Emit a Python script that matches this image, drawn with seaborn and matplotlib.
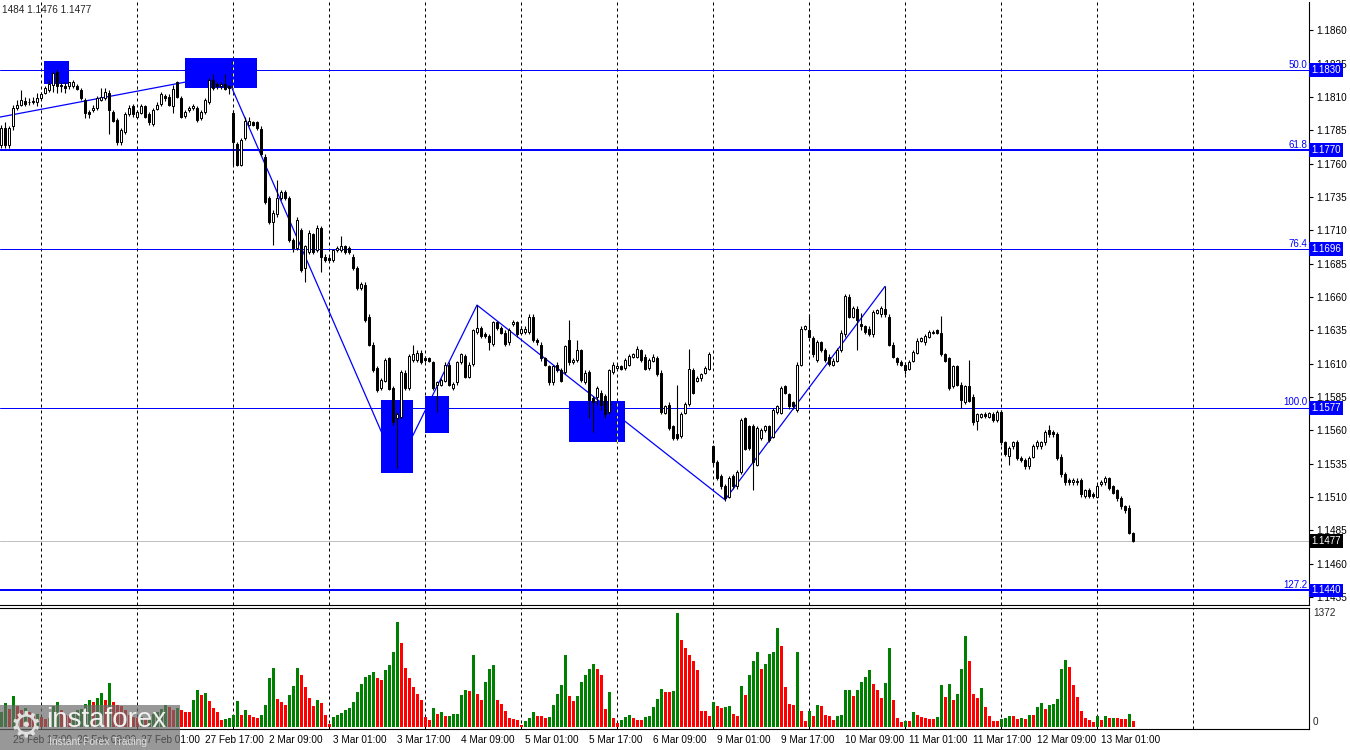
import numpy as np
import pandas as pd
import matplotlib
matplotlib.use("Agg")
import matplotlib.pyplot as plt
import matplotlib.transforms as mtransforms
from matplotlib.patches import Rectangle
import seaborn as sns

# ---------------- data (EURUSD H1) ----------------
opens = [1.1774, 1.1787, 1.1774, 1.1788, 1.1802, 1.1804, 1.1807, 1.1806, 1.1807, 1.1806,
 1.1809, 1.1813, 1.1815, 1.1819, 1.1829, 1.1819, 1.1818, 1.1818, 1.1818, 1.1818,
 1.1815, 1.1808, 1.1799, 1.1800, 1.1802, 1.1808, 1.1809, 1.1813, 1.1799, 1.1793,
 1.1776, 1.1784, 1.1797, 1.1803, 1.1795, 1.1798, 1.1803, 1.1797, 1.1790, 1.1801,
 1.1805, 1.1811, 1.1810, 1.1803, 1.1821, 1.1809, 1.1796, 1.1800, 1.1802, 1.1802,
 1.1794, 1.1799, 1.1806, 1.1823, 1.1820, 1.1818, 1.1820, 1.1818, 1.1798, 1.1775,
 1.1759, 1.1779, 1.1789, 1.1791, 1.1791, 1.1786, 1.1765, 1.1734, 1.1716, 1.1722,
 1.1734, 1.1739, 1.1734, 1.1703, 1.1697, 1.1710, 1.1682, 1.1694, 1.1707, 1.1695,
 1.1712, 1.1690, 1.1689, 1.1688, 1.1695, 1.1695, 1.1698, 1.1697, 1.1690, 1.1682,
 1.1667, 1.1669, 1.1645, 1.1624, 1.1607, 1.1592, 1.1597, 1.1614, 1.1592, 1.1569,
 1.1570, 1.1603, 1.1592, 1.1613, 1.1613, 1.1618, 1.1614, 1.1614, 1.1611, 1.1594,
 1.1594, 1.1597, 1.1609, 1.1592, 1.1596, 1.1611, 1.1616, 1.1600, 1.1610, 1.1634,
 1.1637, 1.1632, 1.1631, 1.1625, 1.1641, 1.1637, 1.1633, 1.1626, 1.1640, 1.1641,
 1.1633, 1.1634, 1.1634, 1.1645, 1.1628, 1.1624, 1.1614, 1.1608, 1.1596, 1.1609,
 1.1605, 1.1604, 1.1628, 1.1611, 1.1613, 1.1620, 1.1596, 1.1604, 1.1584, 1.1585,
 1.1588, 1.1586, 1.1574, 1.1604, 1.1607, 1.1608, 1.1607, 1.1609, 1.1615, 1.1615,
 1.1620, 1.1615, 1.1607, 1.1612, 1.1614, 1.1603, 1.1573, 1.1579, 1.1563, 1.1557,
 1.1556, 1.1573, 1.1580, 1.1605, 1.1597, 1.1599, 1.1603, 1.1606, 1.1548, 1.1536,
 1.1526, 1.1518, 1.1510, 1.1526, 1.1518, 1.1529, 1.1569, 1.1563, 1.1563, 1.1534,
 1.1554, 1.1560, 1.1563, 1.1555, 1.1574, 1.1573, 1.1593, 1.1587, 1.1581, 1.1575,
 1.1609, 1.1636, 1.1635, 1.1629, 1.1613, 1.1626, 1.1620, 1.1615, 1.1609, 1.1612,
 1.1620, 1.1632, 1.1660, 1.1645, 1.1651, 1.1640, 1.1638, 1.1636, 1.1632, 1.1648,
 1.1647, 1.1651, 1.1645, 1.1624, 1.1614, 1.1611, 1.1609, 1.1606, 1.1612, 1.1618,
 1.1627, 1.1626, 1.1630, 1.1633, 1.1635, 1.1633, 1.1617, 1.1614, 1.1593, 1.1608,
 1.1594, 1.1581, 1.1593, 1.1585, 1.1567, 1.1570, 1.1572, 1.1570, 1.1572, 1.1568,
 1.1574, 1.1551, 1.1541, 1.1548, 1.1551, 1.1539, 1.1538, 1.1533, 1.1540, 1.1548,
 1.1548, 1.1551, 1.1560, 1.1559, 1.1557, 1.1540, 1.1527, 1.1523, 1.1521, 1.1522,
 1.1523, 1.1511, 1.1515, 1.1512, 1.1510, 1.1520, 1.1521, 1.1524, 1.1518, 1.1515,
 1.1509, 1.1503, 1.1502, 1.1483]

closes = [1.1787, 1.1774, 1.1787, 1.1802, 1.1804, 1.1808, 1.1805, 1.1806, 1.1806, 1.1809,
 1.1812, 1.1817, 1.1820, 1.1828, 1.1818, 1.1818, 1.1817, 1.1821, 1.1821, 1.1816,
 1.1809, 1.1798, 1.1797, 1.1802, 1.1809, 1.1810, 1.1814, 1.1800, 1.1792, 1.1776,
 1.1785, 1.1797, 1.1802, 1.1797, 1.1799, 1.1803, 1.1795, 1.1791, 1.1800, 1.1804,
 1.1812, 1.1809, 1.1804, 1.1816, 1.1810, 1.1795, 1.1799, 1.1802, 1.1803, 1.1793,
 1.1799, 1.1808, 1.1823, 1.1817, 1.1818, 1.1820, 1.1816, 1.1817, 1.1776, 1.1759,
 1.1778, 1.1792, 1.1792, 1.1789, 1.1787, 1.1767, 1.1731, 1.1716, 1.1723, 1.1734,
 1.1739, 1.1734, 1.1703, 1.1697, 1.1718, 1.1680, 1.1698, 1.1708, 1.1694, 1.1712,
 1.1690, 1.1688, 1.1688, 1.1695, 1.1697, 1.1698, 1.1694, 1.1694, 1.1682, 1.1667,
 1.1670, 1.1643, 1.1624, 1.1605, 1.1590, 1.1598, 1.1613, 1.1591, 1.1566, 1.1572,
 1.1604, 1.1592, 1.1616, 1.1617, 1.1618, 1.1611, 1.1613, 1.1612, 1.1592, 1.1596,
 1.1598, 1.1609, 1.1594, 1.1595, 1.1611, 1.1617, 1.1600, 1.1609, 1.1635, 1.1637,
 1.1631, 1.1631, 1.1626, 1.1641, 1.1637, 1.1633, 1.1625, 1.1635, 1.1641, 1.1632,
 1.1636, 1.1636, 1.1645, 1.1628, 1.1626, 1.1614, 1.1609, 1.1596, 1.1608, 1.1605,
 1.1597, 1.1623, 1.1611, 1.1613, 1.1620, 1.1598, 1.1603, 1.1583, 1.1581, 1.1592,
 1.1579, 1.1572, 1.1605, 1.1609, 1.1608, 1.1606, 1.1613, 1.1616, 1.1617, 1.1621,
 1.1613, 1.1606, 1.1613, 1.1615, 1.1602, 1.1574, 1.1578, 1.1562, 1.1554, 1.1554,
 1.1572, 1.1580, 1.1606, 1.1588, 1.1599, 1.1602, 1.1607, 1.1617, 1.1536, 1.1524,
 1.1518, 1.1509, 1.1524, 1.1518, 1.1529, 1.1568, 1.1546, 1.1547, 1.1536, 1.1562,
 1.1560, 1.1563, 1.1553, 1.1575, 1.1578, 1.1592, 1.1588, 1.1578, 1.1578, 1.1609,
 1.1636, 1.1638, 1.1630, 1.1617, 1.1626, 1.1620, 1.1613, 1.1610, 1.1612, 1.1620,
 1.1633, 1.1661, 1.1645, 1.1652, 1.1643, 1.1638, 1.1634, 1.1632, 1.1649, 1.1650,
 1.1652, 1.1647, 1.1624, 1.1615, 1.1611, 1.1609, 1.1605, 1.1611, 1.1619, 1.1627,
 1.1629, 1.1631, 1.1634, 1.1634, 1.1633, 1.1617, 1.1612, 1.1592, 1.1608, 1.1594,
 1.1583, 1.1593, 1.1582, 1.1566, 1.1572, 1.1572, 1.1571, 1.1573, 1.1568, 1.1574,
 1.1551, 1.1542, 1.1547, 1.1551, 1.1539, 1.1538, 1.1533, 1.1539, 1.1548, 1.1551,
 1.1551, 1.1559, 1.1557, 1.1557, 1.1539, 1.1527, 1.1521, 1.1521, 1.1523, 1.1521,
 1.1512, 1.1515, 1.1511, 1.1511, 1.1518, 1.1521, 1.1524, 1.1517, 1.1513, 1.1509,
 1.1503, 1.1500, 1.1483, 1.1477]

highs = [1.1789, 1.1791, 1.1788, 1.1804, 1.1808, 1.1815, 1.1810, 1.1809, 1.1810, 1.1813,
 1.1814, 1.1818, 1.1823, 1.1829, 1.1830, 1.1821, 1.1821, 1.1821, 1.1823, 1.1820,
 1.1817, 1.1809, 1.1800, 1.1804, 1.1811, 1.1817, 1.1817, 1.1815, 1.1800, 1.1794,
 1.1787, 1.1799, 1.1804, 1.1805, 1.1800, 1.1805, 1.1804, 1.1799, 1.1802, 1.1806,
 1.1814, 1.1812, 1.1812, 1.1819, 1.1822, 1.1811, 1.1800, 1.1803, 1.1805, 1.1803,
 1.1800, 1.1809, 1.1824, 1.1827, 1.1821, 1.1821, 1.1827, 1.1819, 1.1800, 1.1776,
 1.1779, 1.1795, 1.1795, 1.1792, 1.1792, 1.1788, 1.1767, 1.1736, 1.1725, 1.1748,
 1.1740, 1.1740, 1.1736, 1.1704, 1.1720, 1.1712, 1.1699, 1.1710, 1.1708, 1.1714,
 1.1713, 1.1692, 1.1691, 1.1696, 1.1698, 1.1706, 1.1699, 1.1698, 1.1692, 1.1683,
 1.1671, 1.1671, 1.1647, 1.1626, 1.1608, 1.1599, 1.1614, 1.1615, 1.1593, 1.1574,
 1.1605, 1.1605, 1.1617, 1.1624, 1.1620, 1.1620, 1.1616, 1.1615, 1.1612, 1.1597,
 1.1599, 1.1611, 1.1611, 1.1596, 1.1612, 1.1618, 1.1617, 1.1611, 1.1636, 1.1654,
 1.1638, 1.1634, 1.1632, 1.1642, 1.1642, 1.1638, 1.1635, 1.1637, 1.1643, 1.1642,
 1.1638, 1.1638, 1.1647, 1.1647, 1.1629, 1.1626, 1.1615, 1.1609, 1.1609, 1.1611,
 1.1607, 1.1624, 1.1643, 1.1614, 1.1628, 1.1621, 1.1605, 1.1605, 1.1586, 1.1593,
 1.1590, 1.1587, 1.1606, 1.1611, 1.1610, 1.1609, 1.1614, 1.1617, 1.1618, 1.1623,
 1.1621, 1.1617, 1.1614, 1.1617, 1.1616, 1.1605, 1.1579, 1.1581, 1.1564, 1.1594,
 1.1574, 1.1581, 1.1621, 1.1607, 1.1601, 1.1603, 1.1608, 1.1619, 1.1549, 1.1538,
 1.1527, 1.1520, 1.1526, 1.1527, 1.1530, 1.1569, 1.1570, 1.1564, 1.1565, 1.1563,
 1.1562, 1.1564, 1.1564, 1.1577, 1.1579, 1.1593, 1.1594, 1.1588, 1.1582, 1.1611,
 1.1638, 1.1639, 1.1647, 1.1631, 1.1628, 1.1627, 1.1622, 1.1617, 1.1614, 1.1622,
 1.1635, 1.1662, 1.1662, 1.1653, 1.1653, 1.1648, 1.1639, 1.1638, 1.1650, 1.1651,
 1.1653, 1.1668, 1.1647, 1.1626, 1.1615, 1.1613, 1.1611, 1.1613, 1.1620, 1.1629,
 1.1630, 1.1632, 1.1635, 1.1635, 1.1636, 1.1646, 1.1618, 1.1615, 1.1609, 1.1609,
 1.1596, 1.1594, 1.1613, 1.1587, 1.1573, 1.1573, 1.1574, 1.1574, 1.1574, 1.1575,
 1.1575, 1.1552, 1.1548, 1.1552, 1.1553, 1.1541, 1.1539, 1.1541, 1.1550, 1.1553,
 1.1552, 1.1560, 1.1564, 1.1560, 1.1559, 1.1542, 1.1529, 1.1524, 1.1524, 1.1524,
 1.1524, 1.1516, 1.1517, 1.1514, 1.1520, 1.1523, 1.1526, 1.1525, 1.1519, 1.1516,
 1.1511, 1.1504, 1.1504, 1.1484]

lows = [1.1772, 1.1772, 1.1772, 1.1785, 1.1800, 1.1803, 1.1803, 1.1804, 1.1805, 1.1803,
 1.1808, 1.1812, 1.1814, 1.1814, 1.1813, 1.1814, 1.1813, 1.1816, 1.1817, 1.1815,
 1.1808, 1.1794, 1.1794, 1.1799, 1.1800, 1.1807, 1.1808, 1.1782, 1.1791, 1.1774,
 1.1774, 1.1782, 1.1796, 1.1795, 1.1794, 1.1797, 1.1794, 1.1789, 1.1788, 1.1800,
 1.1803, 1.1807, 1.1803, 1.1798, 1.1809, 1.1794, 1.1794, 1.1799, 1.1800, 1.1791,
 1.1793, 1.1797, 1.1805, 1.1815, 1.1816, 1.1816, 1.1815, 1.1812, 1.1759, 1.1758,
 1.1758, 1.1778, 1.1788, 1.1788, 1.1785, 1.1766, 1.1730, 1.1715, 1.1699, 1.1720,
 1.1733, 1.1733, 1.1701, 1.1694, 1.1695, 1.1679, 1.1671, 1.1692, 1.1692, 1.1694,
 1.1679, 1.1686, 1.1686, 1.1686, 1.1694, 1.1694, 1.1692, 1.1692, 1.1680, 1.1665,
 1.1665, 1.1641, 1.1623, 1.1604, 1.1589, 1.1590, 1.1596, 1.1590, 1.1564, 1.1532,
 1.1569, 1.1590, 1.1590, 1.1611, 1.1611, 1.1610, 1.1611, 1.1611, 1.1590, 1.1574,
 1.1593, 1.1596, 1.1593, 1.1590, 1.1594, 1.1610, 1.1599, 1.1599, 1.1608, 1.1632,
 1.1629, 1.1629, 1.1620, 1.1623, 1.1635, 1.1632, 1.1623, 1.1624, 1.1638, 1.1630,
 1.1632, 1.1632, 1.1632, 1.1626, 1.1624, 1.1612, 1.1608, 1.1594, 1.1594, 1.1604,
 1.1596, 1.1602, 1.1609, 1.1610, 1.1611, 1.1596, 1.1595, 1.1569, 1.1559, 1.1579,
 1.1575, 1.1569, 1.1572, 1.1602, 1.1605, 1.1605, 1.1605, 1.1608, 1.1614, 1.1614,
 1.1611, 1.1605, 1.1605, 1.1611, 1.1601, 1.1572, 1.1572, 1.1560, 1.1553, 1.1553,
 1.1554, 1.1572, 1.1578, 1.1587, 1.1596, 1.1597, 1.1602, 1.1605, 1.1534, 1.1523,
 1.1516, 1.1507, 1.1509, 1.1516, 1.1516, 1.1527, 1.1545, 1.1545, 1.1515, 1.1533,
 1.1553, 1.1559, 1.1551, 1.1554, 1.1572, 1.1572, 1.1587, 1.1576, 1.1576, 1.1574,
 1.1608, 1.1635, 1.1629, 1.1615, 1.1611, 1.1619, 1.1611, 1.1608, 1.1608, 1.1611,
 1.1619, 1.1630, 1.1644, 1.1644, 1.1620, 1.1635, 1.1632, 1.1631, 1.1630, 1.1647,
 1.1645, 1.1645, 1.1623, 1.1614, 1.1609, 1.1608, 1.1602, 1.1605, 1.1611, 1.1617,
 1.1626, 1.1624, 1.1629, 1.1632, 1.1632, 1.1616, 1.1611, 1.1590, 1.1592, 1.1593,
 1.1577, 1.1580, 1.1581, 1.1564, 1.1560, 1.1569, 1.1569, 1.1569, 1.1566, 1.1566,
 1.1549, 1.1541, 1.1534, 1.1546, 1.1538, 1.1536, 1.1531, 1.1531, 1.1539, 1.1546,
 1.1546, 1.1549, 1.1555, 1.1555, 1.1538, 1.1525, 1.1519, 1.1519, 1.1519, 1.1519,
 1.1510, 1.1509, 1.1509, 1.1509, 1.1509, 1.1518, 1.1519, 1.1515, 1.1512, 1.1507,
 1.1501, 1.1498, 1.1482, 1.1476]

volumes = [180, 290, 220, 375, 250, 200, 230, 180, 150, 160,
 120, 100, 110, 250, 300, 200, 150, 130, 170, 200,
 220, 280, 320, 300, 350, 410, 330, 530, 300, 270,
 250, 200, 150, 120, 110, 120, 100, 140, 160, 180,
 220, 260, 240, 210, 230, 205, 180, 175, 325, 445,
 385, 415, 315, 225, 180, 90, 95, 110, 140, 313,
 140, 205, 140, 115, 110, 140, 265, 590, 710, 337,
 300, 265, 385, 495, 710, 625, 480, 350, 250, 330,
 290, 150, 40, 120, 140, 170, 200, 230, 300, 420,
 520, 600, 625, 660, 590, 560, 685, 745, 900, 1265,
 1010, 710, 590, 480, 400, 330, 120, 90, 230, 160,
 180, 130, 135, 155, 160, 385, 445, 435, 865, 395,
 325, 540, 700, 750, 325, 275, 195, 105, 100, 90,
 25, 70, 105, 180, 130, 128, 110, 125, 265, 395,
 505, 865, 375, 315, 375, 540, 620, 700, 760, 700,
 620, 215, 420, 110, 50, 90, 125, 150, 105, 90,
 88, 125, 127, 240, 335, 455, 425, 420, 435, 1372,
 1050, 950, 865, 800, 685, 195, 193, 130, 300, 250,
 225, 240, 250, 155, 130, 495, 385, 620, 800, 900,
 700, 760, 880, 900, 1190, 980, 485, 280, 270, 900,
 195, 70, 195, 130, 265, 250, 150, 130, 90, 130,
 150, 445, 450, 375, 445, 540, 600, 680, 515, 440,
 350, 530, 950, 325, 110, 55, 70, 68, 180, 150,
 125, 110, 100, 98, 125, 505, 365, 515, 325, 395,
 700, 1095, 800, 395, 350, 465, 235, 130, 70, 68,
 100, 110, 130, 128, 100, 110, 100, 150, 148, 240,
 290, 215, 265, 275, 335, 700, 805, 720, 505, 365,
 195, 110, 90, 55, 130, 85, 130, 110, 112, 108,
 100, 98, 155, 70]

first_bar_time = "2026-02-25 14:00"
fib_levels = [1.1830, 1.1770, 1.1696, 1.1577, 1.1440]
fib_names = ["50.0", "61.8", "76.4", "100.0", "127.2"]
last_price = 1.1477
header_text = "1484 1.1476 1.1477"
price_ticks = [1.1435, 1.1460, 1.1485, 1.1510, 1.1535, 1.1560, 1.1585, 1.1610,
               1.1635, 1.1660, 1.1685, 1.1710, 1.1735, 1.1760, 1.1785, 1.1810,
               1.1835, 1.1860]
volume_max_label = 1372
# zigzag vertices (bar index, price)
zigzag_bar = [-0.25, 56.25, 99, 119, 181, 221]
zigzag_price = [1.1795, 1.1827, 1.1532, 1.1654, 1.1508, 1.1668]
# highlighted zones (bar start, bar end, top price, bottom price)
zone_start = [10.75, 46, 95, 106, 142]
zone_end = [17, 64, 103, 112, 156]
zone_top = [1.1837, 1.1839, 1.1583, 1.1586, 1.1582]
zone_bottom = [1.1820, 1.1817, 1.1528, 1.1558, 1.1551]

# ---------------- style ----------------
sns.set_style("white")
plt.rcParams["font.family"] = ["Liberation Sans", "DejaVu Sans"]
plt.rcParams["axes.linewidth"] = 0.8

BLUE = "#0000ff"
PX = 0.72  # one pixel in points at 100 dpi

N = len(closes)
assert len(opens) == N and len(highs) == N and len(lows) == N and len(volumes) == N
idx = np.arange(N)
o = np.array(opens); c = np.array(closes); h = np.array(highs); l = np.array(lows)

times = pd.date_range(first_bar_time, periods=24 * 30, freq="h")
times = times[times.dayofweek < 5][:N]

W, H = 1350, 750
def fbox(x0, y0, x1, y1):
    return [x0 / W, 1 - y1 / H, (x1 - x0) / W, (y1 - y0) / H]

fig = plt.figure(figsize=(13.5, 7.5), dpi=100)
fig.patch.set_facecolor("white")
ax = fig.add_axes(fbox(0, 2, 1309, 605))
axv = fig.add_axes(fbox(0, 608, 1309, 729))

XMIN, XMAX = -0.25, 327.0

# grid (day separators)
day_starts = [i for i in range(N) if times[i].hour == 0]
day_starts.append((N - 1) + (24 - times[N - 1].hour))
for a in (ax, axv):
    for g in day_starts:
        a.axvline(g, color="black", lw=PX, ls=(0, (3, 3)), zorder=1)

# zones
for s, e, t, b in zip(zone_start, zone_end, zone_top, zone_bottom):
    ax.add_patch(Rectangle((s, b), e - s, t - b, facecolor=BLUE, edgecolor="none", zorder=2))
    for g in day_starts:
        if s < g < e:
            ax.plot([g, g], [b, t], color="#ffff00", lw=PX, ls=(0, (3, 3)), zorder=2.5)

# fibo levels and current price
ax.axhline(last_price, color="#c0c0c0", lw=PX, zorder=2)
fib_lw = [PX, 2 * PX, PX, PX, 2 * PX]
tr = mtransforms.blended_transform_factory(ax.transAxes, ax.transData)
for lvl, name, lw in zip(fib_levels, fib_names, fib_lw):
    ax.axhline(lvl, color=BLUE, lw=lw, zorder=3)
    ax.text(0.9985, lvl + 0.00003, name, transform=tr, ha="right", va="bottom",
            color=BLUE, fontsize=7, zorder=6)
    ax.text(1.0017, lvl, f"{lvl:.4f}", transform=tr, ha="left", va="center",
            color="white", fontsize=7, zorder=20, clip_on=False,
            bbox=dict(boxstyle="square,pad=0.2", fc=BLUE, ec="none"))
ax.text(1.0017, last_price, f"{last_price:.4f}", transform=tr, ha="left", va="center",
        color="white", fontsize=7, zorder=20, clip_on=False,
        bbox=dict(boxstyle="square,pad=0.2", fc="black", ec="none"))

# zigzag
sns.lineplot(x=zigzag_bar, y=zigzag_price, ax=ax, color=BLUE, lw=0.9, sort=False,
             estimator=None, zorder=3)

# candles
ax.vlines(idx, l, h, color="black", lw=PX * 1.1, zorder=4)
up = c >= o
body_lo = np.minimum(o, c)
body_h = np.abs(c - o)
ax.bar(idx[up], body_h[up], bottom=body_lo[up], width=0.6, facecolor="white",
       edgecolor="black", linewidth=PX, zorder=5)
ax.bar(idx[~up], body_h[~up], bottom=body_lo[~up], width=0.6, facecolor="black",
       edgecolor="black", linewidth=PX, zorder=5)

ax.set_xlim(XMIN, XMAX)
ax.set_ylim(1.14291, 1.18813)
ax.set_xlabel(""); ax.set_ylabel("")
ax.set_xticks([])
ax.yaxis.tick_right()
ax.set_yticks(price_ticks)
ax.set_yticklabels([f"{t:.4f}" for t in price_ticks])
ax.tick_params(axis="y", length=3, width=0.8, pad=2.5, labelsize=7.2, colors="black")
for sp in ("top", "left"):
    ax.spines[sp].set_visible(False)
for sp in ("right", "bottom"):
    ax.spines[sp].set_color("black")
ax.set_facecolor("white")

# volumes
vdir = ["up"] + ["up" if volumes[i] > volumes[i - 1] else "down" for i in range(1, N)]
vol_df = pd.DataFrame({"bar": idx, "volume": volumes, "dir": vdir})
sns.barplot(data=vol_df, x="bar", y="volume", hue="dir",
            palette={"up": "#008000", "down": "#ff0000"}, native_scale=True,
            dodge=False, width=0.75, saturation=1, errorbar=None, legend=False,
            ax=axv, linewidth=0)
axv.set_xlim(XMIN, XMAX)
axv.set_ylim(-24, 1432)
axv.set_xlabel(""); axv.set_ylabel("")
axv.set_yticks([])
lab_idx = list(range(3, N, 16))
lab_txt = [f"{times[i].day} {times[i].strftime('%b')} {times[i].strftime('%H:%M')}" for i in lab_idx]
axv.set_xticks(lab_idx)
axv.set_xticklabels(lab_txt, ha="left", fontsize=7.2)
axv.tick_params(axis="x", length=3, width=0.8, pad=1.5, direction="out", colors="black")
axv.spines["left"].set_visible(False)
for sp in ("right", "bottom", "top"):
    axv.spines[sp].set_color("black")
trv = mtransforms.blended_transform_factory(axv.transAxes, axv.transData)
axv.text(1.003, volume_max_label, str(volume_max_label), transform=trv, ha="left",
         va="center", fontsize=7.2, clip_on=False)
axv.text(1.003, 0, "0", transform=trv, ha="left", va="bottom", fontsize=7.2, clip_on=False)

# header
fig.text(2 / W, 1 - 10 / H, header_text, fontsize=7.2, ha="left", va="center")

# watermark logo
logo = Rectangle((0, 0), 180 / W, 45 / H, transform=fig.transFigure,
                 facecolor="#6c6c6c", alpha=0.7, edgecolor="none", zorder=5)
fig.add_artist(logo)
fig.text(26 / W, 1 - 726 / H, "\u2699", fontsize=26, color="#e0e0e0", ha="center",
         va="center", family="DejaVu Sans", zorder=6)
fig.text(46 / W, 1 - 720 / H, "instaforex", fontsize=20, color="#f0f0f0",
         ha="left", va="center", zorder=6)
fig.text(49 / W, 1 - 742 / H, "Instant Forex Trading", fontsize=7.5,
         color="#dcdcdc", ha="left", va="center", zorder=6)

fig.savefig("out.png", dpi=100, facecolor="white")
